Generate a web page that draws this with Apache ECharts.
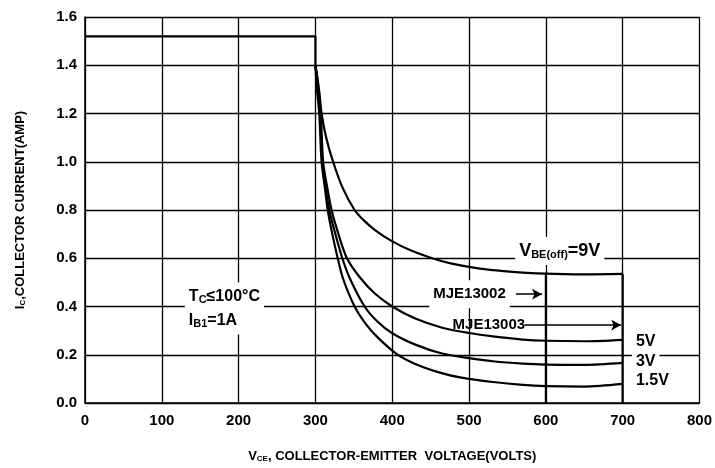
<!DOCTYPE html>
<html>
<head>
<meta charset="utf-8">
<script src="https://cdn.jsdelivr.net/npm/echarts@6/dist/echarts.min.js"></script>
<style>
  html, body { margin: 0; padding: 0; background: #fff; }
  #chart { width: 715px; height: 468px; }
</style>
</head>
<body>
<div id="chart"></div>
<script>
// 坐标轴刻度
const xTicks = [0, 100, 200, 300, 400, 500, 600, 700, 800]
const yTicks = [0.0, 0.2, 0.4, 0.6, 0.8, 1.0, 1.2, 1.4, 1.6]

// 水平段 + 300V 处的垂直下降
const flatPart = [[0, 1.52], [300, 1.52], [300, 1.40]]

// 各 VBE(off) 曲线 [VCE, IC]
const curve9V = [[300, 1.40], [302, 1.36], [305, 1.29], [308, 1.20], [314, 1.10], [323, 1.00],
  [335, 0.895], [351, 0.80], [363, 0.757], [378, 0.716], [399, 0.672], [423, 0.634], [453, 0.599],
  [476, 0.579], [514, 0.557], [545, 0.547], [600, 0.536], [650, 0.533], [700, 0.535]]
const curve5V = [[300, 1.40], [304, 1.30], [307, 1.20], [310, 1.00], [315, 0.90], [321, 0.80],
  [330, 0.70], [341, 0.60], [358, 0.52], [377, 0.455], [400, 0.40], [430, 0.35], [465, 0.312],
  [500, 0.29], [531, 0.276], [570, 0.263], [600, 0.258], [650, 0.256], [700, 0.262]]
const curve3V = [[300, 1.40], [303, 1.30], [306, 1.20], [309, 1.00], [313, 0.90], [318, 0.80],
  [326, 0.70], [335, 0.60], [345, 0.515], [364, 0.40], [380, 0.34], [400, 0.289], [430, 0.242],
  [465, 0.205], [500, 0.186], [531, 0.173], [570, 0.163], [600, 0.159], [650, 0.158], [700, 0.166]]
const curve1p5V = [[300, 1.40], [302, 1.30], [305, 1.20], [308, 1.00], [312, 0.90], [316, 0.80],
  [322, 0.70], [329, 0.60], [336, 0.515], [351, 0.40], [365, 0.33], [380, 0.275], [405, 0.205],
  [430, 0.162], [462, 0.126], [490, 0.105], [531, 0.087], [570, 0.075], [600, 0.070], [650, 0.068], [700, 0.079]]

// 两个型号的电压极限
const limit13002 = [[600, 0], [600, 0.536]]
const limit13003 = [[700, 0], [700, 0.535]]

// 箭头 (起点, 终点)
const arrow13002 = [[561, 0.451], [595, 0.451]]
const arrow13003 = [[572, 0.323], [698, 0.323]]

const FONT = '"Liberation Sans", Arial, sans-serif'
const chart = echarts.init(document.getElementById('chart'))

const lineSeries = (name, data, smooth) => ({
  name,
  type: 'line',
  data,
  smooth: smooth ? 0.3 : false,
  symbol: 'none',
  lineStyle: { color: '#000', width: 2.2 },
  z: 3
})

const option = {
  animation: false,
  backgroundColor: '#fff',
  grid: { left: 85, right: 15, top: 17, bottom: 63 },
  xAxis: {
    type: 'value',
    min: xTicks[0],
    max: xTicks[xTicks.length - 1],
    interval: 100,
    name: '{v|V}{sub|CE}{t|, COLLECTOR-EMITTER  VOLTAGE(VOLTS)}',
    nameLocation: 'middle',
    nameGap: 47,
    nameTextStyle: {
      rich: {
        v: { fontFamily: FONT, fontWeight: 'bold', fontSize: 13, color: '#000' },
        sub: { fontFamily: FONT, fontWeight: 'bold', fontSize: 8, color: '#000', padding: [5, 0, 0, 0] },
        t: { fontFamily: FONT, fontWeight: 'bold', fontSize: 13, color: '#000' }
      }
    },
    axisLine: { show: true, lineStyle: { color: '#000', width: 1.5 } },
    axisTick: { show: false },
    axisLabel: { fontFamily: FONT, fontWeight: 'bold', fontSize: 15, color: '#000', margin: 10 },
    splitLine: { show: true, lineStyle: { color: '#000', width: 1.3 } }
  },
  yAxis: {
    type: 'value',
    min: yTicks[0],
    max: yTicks[yTicks.length - 1],
    interval: 0.2,
    name: '{v|I}{sub|C}{t|,COLLECTOR CURRENT(AMP)}',
    nameLocation: 'middle',
    nameGap: 58,
    nameTextStyle: {
      rich: {
        v: { fontFamily: FONT, fontWeight: 'bold', fontSize: 13, color: '#000' },
        sub: { fontFamily: FONT, fontWeight: 'bold', fontSize: 8, color: '#000', padding: [5, 0, 0, 0] },
        t: { fontFamily: FONT, fontWeight: 'bold', fontSize: 13, color: '#000' }
      }
    },
    axisLine: { show: true, lineStyle: { color: '#000', width: 1.5 } },
    axisTick: { show: false },
    axisLabel: {
      fontFamily: FONT, fontWeight: 'bold', fontSize: 15, color: '#000', margin: 8,
      formatter: (value) => value.toFixed(1)
    },
    splitLine: { show: true, lineStyle: { color: '#000', width: 1.3 } }
  },
  series: [
    lineSeries('flat', flatPart, false),
    lineSeries('9V', curve9V, true),
    lineSeries('5V', curve5V, true),
    lineSeries('3V', curve3V, true),
    lineSeries('1.5V', curve1p5V, true),
    lineSeries('MJE13002', limit13002, false),
    lineSeries('MJE13003', limit13003, false),
    {
      type: 'line',
      data: [],
      markLine: {
        silent: true,
        symbol: ['none', 'arrow'],
        symbolSize: [8, 10],
        label: { show: false },
        lineStyle: { color: '#000', width: 1.5, type: 'solid' },
        data: [
          [{ coord: arrow13002[0] }, { coord: arrow13002[1] }],
          [{ coord: arrow13003[0] }, { coord: arrow13003[1] }]
        ]
      }
    }
  ]
}

chart.setOption(option)

// 注释文字 (数据坐标 -> 像素)
const px = (pt) => chart.convertToPixel({ gridIndex: 0 }, pt)
const baseText = { fontFamily: FONT, fontWeight: 'bold', fontSize: 15, fill: '#000' }
const subRich = {
  n: { fontFamily: FONT, fontWeight: 'bold', fontSize: 15, color: '#000' },
  m: { fontFamily: FONT, fontWeight: 'bold', fontSize: 16, color: '#000' },
  big: { fontFamily: FONT, fontWeight: 'bold', fontSize: 18, color: '#000' },
  sub: { fontFamily: FONT, fontWeight: 'bold', fontSize: 11, color: '#000', padding: [7, 0, 0, 0] }
}

const labels = [
  { at: [130, 0.392], text: '{m|T}{sub|C}{m|≤100°C}\n{m|I}{sub|B1}{m|=1A}', align: 'left', bg: true },
  { at: [560, 0.63], text: '{big|V}{sub|BE(off)}{big|=9V}', align: 'left', bg: true },
  { at: [553, 0.451], text: '{n|MJE13002}', align: 'right', bg: true },
  { at: [573, 0.323], text: '{n|MJE13003}', align: 'right', bg: false },
  { at: [712, 0.256], text: '{m|5V}', align: 'left', bg: true },
  { at: [712, 0.173], text: '{m|3V}', align: 'left', bg: true },
  { at: [712, 0.091], text: '{m|1.5V}', align: 'left', bg: true }
]

chart.setOption({
  graphic: labels.map((l) => {
    const p = px(l.at)
    return {
      type: 'text',
      x: p[0],
      y: p[1],
      z: 10,
      style: {
        ...baseText,
        text: l.text,
        rich: subRich,
        align: l.align,
        verticalAlign: 'middle',
        backgroundColor: l.bg ? '#fff' : 'transparent',
        padding: l.bg ? [2, 4, 2, 4] : 0,
        lineHeight: 24
      }
    }
  })
})
</script>
</body>
</html>
